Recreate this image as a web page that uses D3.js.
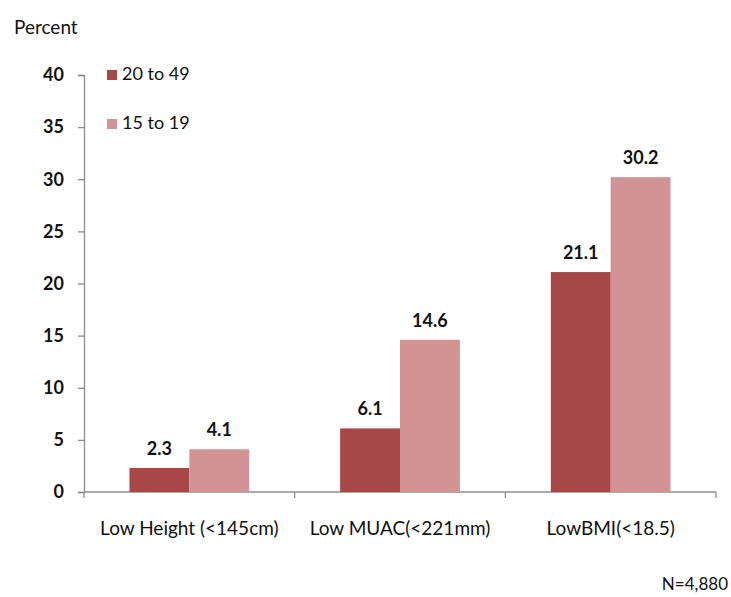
<!DOCTYPE html>
<html>
<head>
<meta charset="utf-8">
<script src="https://cdn.jsdelivr.net/npm/d3@7"></script>
<style>
  html, body { margin: 0; padding: 0; background: #ffffff; }
  svg { display: block; }
  text { font-family: Lato, "Open Sans", sans-serif; fill: #111; }
</style>
</head>
<body>
<svg id="chart" width="731" height="597"></svg>
<script>
// Undernutrition indicators by age group
const categories = ["Low Height (<145cm)", "Low MUAC(<221mm)", "LowBMI(<18.5)"];
const seriesNames = ["20 to 49", "15 to 19"];
const values20to49 = [2.3, 6.1, 21.1];
const values15to19 = [4.1, 14.6, 30.2];
const yTicks = [0, 5, 10, 15, 20, 25, 30, 35, 40];
const colors = ["#A84747", "#D39293"];

const svg = d3.select("#chart");

const x = d3.scaleBand().domain(categories).range([84, 716]).paddingInner(0).paddingOuter(0);
const xSeries = d3.scaleBand().domain(seriesNames).range([0, x.bandwidth()]).paddingInner(0).paddingOuter(0.76);
const y = d3.scaleLinear().domain([0, 40]).range([492, 75]);

const table = categories.map((c, i) => ({
  category: c,
  values: [values20to49[i], values15to19[i]]
}));

// Y axis
const yAxis = d3.axisLeft(y).tickValues(yTicks).tickSize(6).tickPadding(14).tickFormat(d3.format("d"));
const gy = svg.append("g").attr("transform", `translate(${x.range()[0]},0)`).call(yAxis);
gy.select(".domain").attr("stroke", "#8c8c8c").attr("stroke-width", 1.3);
gy.selectAll(".tick line").attr("stroke", "#8c8c8c").attr("stroke-width", 1.3);
gy.selectAll(".tick text").style("font-family", "Lato, sans-serif").style("font-size", "18px").style("font-weight", "bold").attr("fill", "#111");

// X axis with ticks at category boundaries
const gx = svg.append("g").attr("transform", `translate(0,${y(0)})`);
gx.append("line").attr("x1", x.range()[0]).attr("x2", x.range()[1]).attr("stroke", "#8c8c8c").attr("stroke-width", 1.3);
const boundaries = categories.map(c => x(c)).concat([x.range()[1]]);
gx.selectAll("line.bound").data(boundaries).join("line").attr("class", "bound")
  .attr("x1", d => d).attr("x2", d => d).attr("y1", 0).attr("y2", 6)
  .attr("stroke", "#8c8c8c").attr("stroke-width", 1.3);
gx.selectAll("text.cat").data(categories).join("text").attr("class", "cat")
  .attr("x", d => x(d) + x.bandwidth() / 2).attr("y", 43)
  .attr("text-anchor", "middle").style("font-size", "19px").text(d => d);

// Bars
const groups = svg.append("g").selectAll("g").data(table).join("g")
  .attr("transform", d => `translate(${x(d.category)},0)`);
groups.selectAll("rect").data(d => d.values.map((v, i) => ({ name: seriesNames[i], v, i })))
  .join("rect")
  .attr("x", d => xSeries(d.name))
  .attr("width", xSeries.bandwidth())
  .attr("y", d => y(d.v))
  .attr("height", d => y(0) - y(d.v))
  .attr("fill", d => colors[d.i]);
groups.selectAll("text").data(d => d.values.map((v, i) => ({ name: seriesNames[i], v, i })))
  .join("text")
  .attr("x", d => xSeries(d.name) + xSeries.bandwidth() / 2)
  .attr("y", d => y(d.v) - 13)
  .attr("text-anchor", "middle")
  .style("font-size", "18px").style("font-weight", "bold")
  .text(d => d.v.toFixed(1));

// Legend
const legend = svg.append("g").selectAll("g").data(seriesNames).join("g")
  .attr("transform", (d, i) => `translate(107,${70 + i * 49})`);
legend.append("rect").attr("width", 10).attr("height", 10).attr("fill", (d, i) => colors[i]);
legend.append("text").attr("x", 15).attr("y", 10).style("font-size", "18px").text(d => d);

// Titles
svg.append("text").attr("x", 14).attr("y", 34).style("font-size", "19px").text("Percent");
svg.append("text").attr("x", 728).attr("y", 590).attr("text-anchor", "end").style("font-size", "17px").text("N=4,880");
</script>
</body>
</html>
